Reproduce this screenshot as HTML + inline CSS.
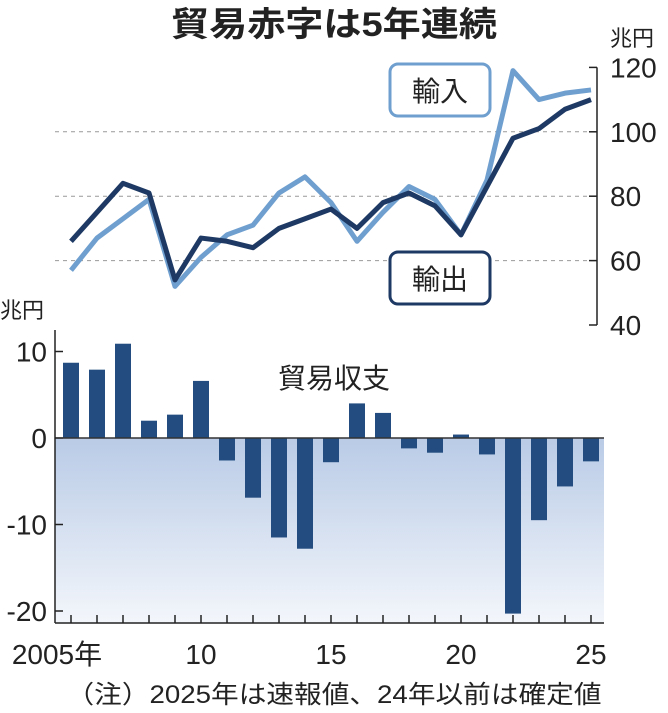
<!DOCTYPE html>
<html><head><meta charset="utf-8"><style>
body{margin:0;background:#fff;}
svg{display:block;font-family:"Liberation Sans","Noto Sans CJK JP",sans-serif;}
</style></head><body>
<svg id="c" width="668" height="713" viewBox="0 0 668 713">
<defs><linearGradient id="g" x1="0" y1="0" x2="0" y2="1"><stop offset="0" stop-color="#b9cbe6"/><stop offset="1" stop-color="#f3f6fb"/></linearGradient></defs>
<text x="334" y="36" font-size="34" font-weight="bold" text-anchor="middle" fill="#222" textLength="326" lengthAdjust="spacingAndGlyphs">貿易赤字は5年連続</text>
<g id="topg"></g><g id="botg"></g>
</svg>
<script>
const years=[2005,2006,2007,2008,2009,2010,2011,2012,2013,2014,2015,2016,2017,2018,2019,2020,2021,2022,2023,2024,2025];
const imports=[57,67,73,79,52,61,68,71,81,86,78,66,75,83,79,68,85,119,110,112,113];
const exportsData=[66,75,84,81,54,67,66,64,70,73,76,70,78,81,77,68,83,98,101,107,110];
const balance=[8.7,7.9,10.9,2.0,2.7,6.6,-2.6,-6.9,-11.5,-12.8,-2.8,4.0,2.9,-1.2,-1.7,0.4,-1.9,-20.3,-9.5,-5.6,-2.7];
const topTicks=[40,60,80,100,120];
const botTicks=[10,0,-10,-20];
const xLabels=["2005年","10","15","20","25"];
const NS="http://www.w3.org/2000/svg";
const X=i=>71+i*26;
const Yt=v=>325-(v-40)*3.22;
const Yb=v=>438-v*8.65;
function el(p,t,a,txt){const e=document.createElementNS(NS,t);for(const k in a)e.setAttribute(k,a[k]);if(txt!==undefined)e.textContent=txt;p.appendChild(e);return e;}
const topG=document.getElementById('topg'),botG=document.getElementById('botg');
topTicks.forEach(v=>{
 if(v>40&&v<120){const gl=el(topG,'line',{x1:55,x2:597,y1:Yt(v),y2:Yt(v),stroke:'#999','stroke-dasharray':'4,4','stroke-width':1});
 
 }
 el(topG,'line',{x1:589,x2:597,y1:Yt(v),y2:Yt(v),stroke:'#222','stroke-width':1.5});
 const t=el(topG,'text',{x:610,y:Yt(v)+10,'font-size':28,fill:'#222'},String(v));
 
 
});
el(topG,'line',{x1:597,x2:597,y1:Yt(120),y2:Yt(40),stroke:'#222','stroke-width':1.5});
el(topG,'text',{x:610,y:46,'font-size':22,fill:'#222'},'兆円');
function line(d,col,name){
 const p=el(topG,'polyline',{points:d.map((v,i)=>X(i)+','+Yt(v)).join(' '),fill:'none',stroke:col,'stroke-width':5,'stroke-linejoin':'round'});
 
 
}
line(imports,'#6f9fcf','imports-line');
line(exportsData,'#1e3a64','exports-line');
const l1=el(topG,'rect',{x:390,y:64,width:100,height:52,rx:8,fill:'#fff',stroke:'#6f9fcf','stroke-width':3});


el(topG,'text',{x:440,y:101,'font-size':28,'text-anchor':'middle',fill:'#222'},'輸入');
const l2=el(topG,'rect',{x:390,y:252,width:100,height:52,rx:8,fill:'#fff',stroke:'#1e3a64','stroke-width':3});


el(topG,'text',{x:440,y:289,'font-size':28,'text-anchor':'middle',fill:'#222'},'輸出');
el(botG,'rect',{x:55,y:Yb(0),width:549,height:623-Yb(0),fill:'url(#g)'});
el(botG,'text',{x:0,y:318,'font-size':22,fill:'#222'},'兆円');
botTicks.forEach(v=>{
 el(botG,'line',{x1:55,x2:63,y1:Yb(v),y2:Yb(v),stroke:'#222','stroke-width':1.5});
 const t=el(botG,'text',{x:47,y:Yb(v)+10,'font-size':28,'text-anchor':'end',fill:'#222'},String(v));
 
 
});
balance.forEach((v,i)=>{
 const b=el(botG,'rect',{x:X(i)-8,y:Math.min(Yb(v),Yb(0)),width:16,height:Math.abs(Yb(v)-Yb(0)),fill:'#234d80'});
 
 
 el(botG,'line',{x1:X(i),x2:X(i),y1:615,y2:623,stroke:'#222','stroke-width':1.5});
});
el(botG,'line',{x1:55,x2:604,y1:Yb(0),y2:Yb(0),stroke:'#333','stroke-width':1.5});
el(botG,'line',{x1:55,x2:55,y1:330,y2:623,stroke:'#222','stroke-width':1.5});
el(botG,'line',{x1:55,x2:604,y1:623,y2:623,stroke:'#222','stroke-width':1.5});
el(botG,'text',{x:334,y:388,'font-size':28,'text-anchor':'middle',fill:'#222'},'貿易収支');
xLabels.forEach((s,k)=>{
 const t=el(botG,'text',{x:X(k*5)+(k==0?-14:0),y:664,'font-size':28,'text-anchor':'middle',fill:'#222'},s);
 
 
});
const n=el(botG,'text',{x:334,y:703,'font-size':25,'text-anchor':'middle',fill:'#222',textLength:535,lengthAdjust:'spacingAndGlyphs'},'（注）2025年は速報値、24年以前は確定値');


</script>
</body></html>
